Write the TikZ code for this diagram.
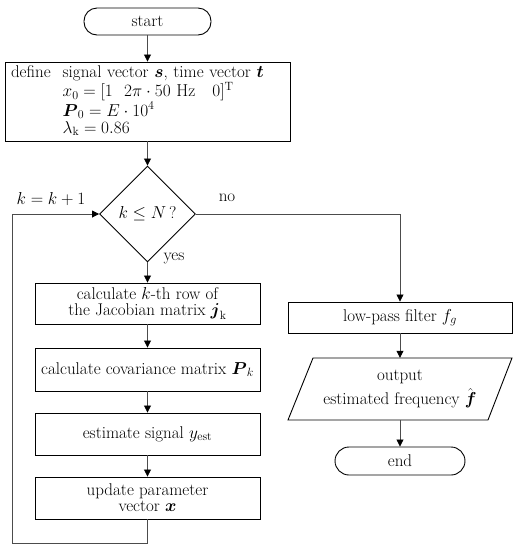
\documentclass[tikz,border=0pt]{standalone}
\usepackage{amsmath}
\usetikzlibrary{shapes.geometric,arrows.meta}
\begin{document}
\begin{tikzpicture}[x=1pt,y=-1pt,
  every node/.style={font=\fontsize{17}{19}\selectfont},
  box/.style={draw=black,line width=0.9pt,rectangle,inner sep=0pt,align=center},
  term/.style={box,rounded corners=13pt},
  conn/.style={draw=black!70,line width=0.8pt},
  arr/.style={conn,-{Triangle[length=7pt,width=7pt,black]}},
  lbl/.style={inner sep=0pt}]
\useasboundingbox (0,0) rectangle (520,550);
% nodes
\node[term,minimum width=127pt,minimum height=27pt] (start) at (147.5,21.5) {start};
\node[box,minimum width=285pt,minimum height=79pt,text width=273pt,align=left] (def) at (147.5,101.5)
 {\begin{tabular}{@{}l@{\hspace{12pt}}l@{}}
  define & signal vector $\boldsymbol{s}$, time vector $\boldsymbol{t}$\\[-1pt]
         & $x_0 = [1\ \ 2\pi\cdot 50\ \mathrm{Hz}\ \ \ 0]^{\mathrm{T}}$\\[0pt]
         & $\boldsymbol{P}_0 = E\cdot 10^4$\\[-2pt]
         & $\lambda_{\mathrm{k}} = 0.86$
  \end{tabular}};
\node[box,diamond,minimum width=96pt,minimum height=96pt,inner sep=0pt] (dec) at (147.5,214) {$k \leq N$\,?};
\node[box,minimum width=225pt,minimum height=41pt] (jac) at (147.5,303.5) {calculate $k$-th row of\\[-3pt] the Jacobian matrix $\boldsymbol{j}_{\mathrm{k}}$};
\node[box,minimum width=225pt,minimum height=43pt] (cov) at (147.5,369.5) {calculate covariance matrix $\boldsymbol{P}_k$};
\node[box,minimum width=225pt,minimum height=42pt] (est) at (147.5,434) {estimate signal $y_{\mathrm{est}}$};
\node[box,minimum width=225pt,minimum height=42pt] (upd) at (147.5,498) {update parameter\\[-3pt] vector $\boldsymbol{x}$};
\node[box,minimum width=224pt,minimum height=31pt] (lp) at (400,317.5) {low-pass filter $f_g$};
\draw[line width=0.9pt] (313,358)--(512,358)--(488,420)--(288,420)--cycle;
\node[align=center,inner sep=0pt,minimum width=199pt,minimum height=62pt] (out) at (400,389) {output\\[4pt] estimated frequency $\hat{\boldsymbol{f}}$};
\node[term,minimum width=130pt,minimum height=28pt,rounded corners=14pt] (end) at (400,461) {end};
% labels
\node[lbl] (kinc) at (51,199) {$k = k + 1$};
\node[lbl] (no) at (227,198) {no};
\node[lbl] (yes) at (174,258) {yes};
% coordinates
\coordinate (lA) at (12,543);
\coordinate (lB) at (147.5,543);
\coordinate (lC) at (12,214);
\coordinate (nA) at (400,214);
% connectors
\draw[arr] (start) -- (def);
\draw[arr] (def) -- (dec);
\draw[arr] (dec) -- (jac);
\draw[arr] (jac) -- (cov);
\draw[arr] (cov) -- (est);
\draw[arr] (est) -- (upd);
\draw[arr] (upd.south) -- (lB) -- (lA) -- (lC) -- (dec.west);
\draw[arr] (dec.east) -- (nA) -- (lp.north);
\draw[arr] (lp) -- (out.north);
\draw[arr] (out.south) -- (end);
\end{tikzpicture}
\end{document}
